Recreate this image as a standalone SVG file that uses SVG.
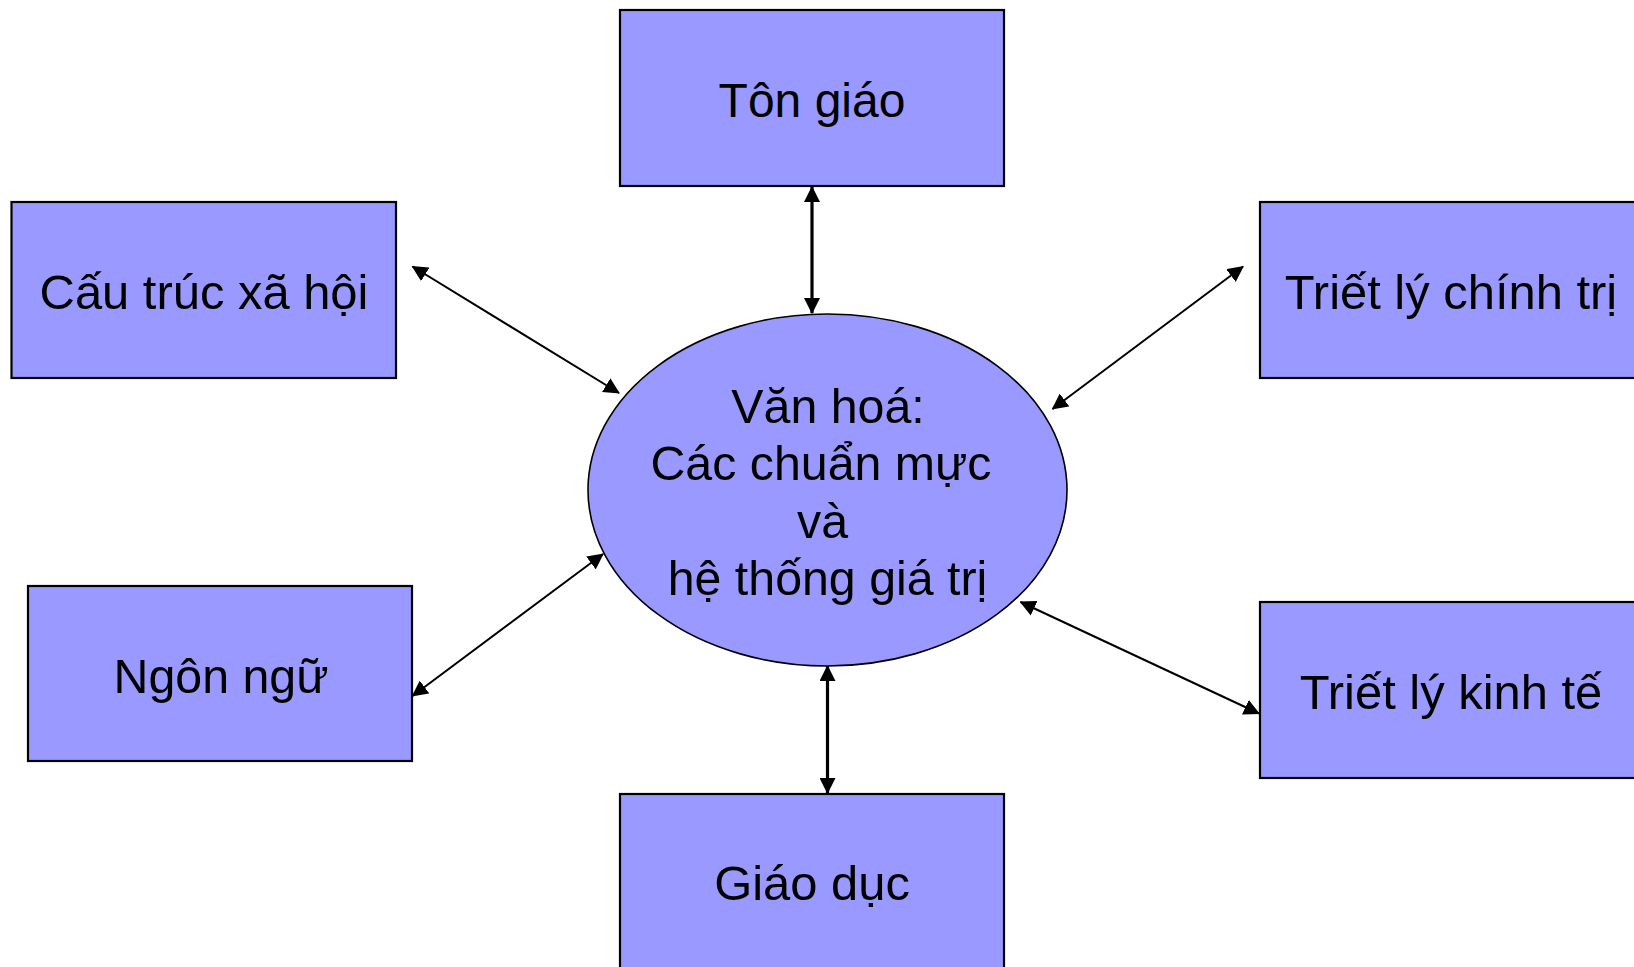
<svg xmlns="http://www.w3.org/2000/svg" width="1634" height="967" viewBox="0 0 1634 967">
<style>
.box{fill:#9999FF;stroke:#000;stroke-width:2.2}
.ell{fill:#9999FF;stroke:#000;stroke-width:1.6}
.lbl{font-family:"Liberation Sans",Arial,sans-serif;font-size:48.9px;fill:#000;text-anchor:middle}
.sm{font-size:48.3px}
.con{stroke:#000;fill:none;stroke-width:2}
.vcon{stroke:#000;fill:none;stroke-width:3.2}
</style>
<defs>
<marker id="ah" viewBox="0 0 16 16" refX="15" refY="8" markerWidth="16" markerHeight="16" markerUnits="userSpaceOnUse" orient="auto-start-reverse">
<path d="M0,0 L16,8 L0,16 z" fill="#000"/>
</marker>
</defs>
<rect width="1634" height="967" fill="#fff"/>
<g id="connectors">
<line class="vcon" x1="812" y1="187" x2="812" y2="313" marker-start="url(#ah)" marker-end="url(#ah)"/>
<line class="vcon" x1="827.5" y1="666" x2="827.5" y2="793" marker-start="url(#ah)" marker-end="url(#ah)"/>
<line class="con" x1="412.5" y1="266.5" x2="619" y2="393" marker-start="url(#ah)" marker-end="url(#ah)"/>
<line class="con" x1="1243" y1="266.5" x2="1052.5" y2="409" marker-start="url(#ah)" marker-end="url(#ah)"/>
<line class="con" x1="603" y1="554" x2="412.5" y2="696" marker-start="url(#ah)" marker-end="url(#ah)"/>
<line class="con" x1="1020.5" y1="602" x2="1259" y2="713.5" marker-start="url(#ah)" marker-end="url(#ah)"/>
</g>
<g id="node-ton-giao">
<rect class="box" x="620" y="10" width="384" height="176"/>
<text class="lbl" x="812" y="117" style="font-size:48px">Tôn giáo</text>
</g>
<g id="node-cau-truc-xa-hoi">
<rect class="box" x="11.5" y="202" width="384.5" height="176"/>
<text class="lbl" x="204" y="309">Cấu trúc xã hội</text>
</g>
<g id="node-triet-ly-chinh-tri">
<rect class="box" x="1260" y="202" width="384" height="176"/>
<text class="lbl" x="1451" y="309">Triết lý chính trị</text>
</g>
<g id="node-ngon-ngu">
<rect class="box" x="28" y="586" width="384" height="175"/>
<text class="lbl sm" x="221" y="693">Ngôn ngữ</text>
</g>
<g id="node-triet-ly-kinh-te">
<rect class="box" x="1260" y="602" width="384" height="176"/>
<text class="lbl" x="1451" y="709">Triết lý kinh tế</text>
</g>
<g id="node-giao-duc">
<rect class="box" x="620" y="794" width="384" height="180"/>
<text class="lbl" x="812" y="900">Giáo dục</text>
</g>
<g id="node-van-hoa">
<ellipse class="ell" cx="827.5" cy="490" rx="239.5" ry="176"/>
<text class="lbl sm" x="828" y="423">Văn hoá:</text>
<text class="lbl sm" x="821" y="480">Các chuẩn mực</text>
<text class="lbl sm" x="822.5" y="538">và</text>
<text class="lbl sm" x="827.5" y="595">hệ thống giá trị</text>
</g>
</svg>
